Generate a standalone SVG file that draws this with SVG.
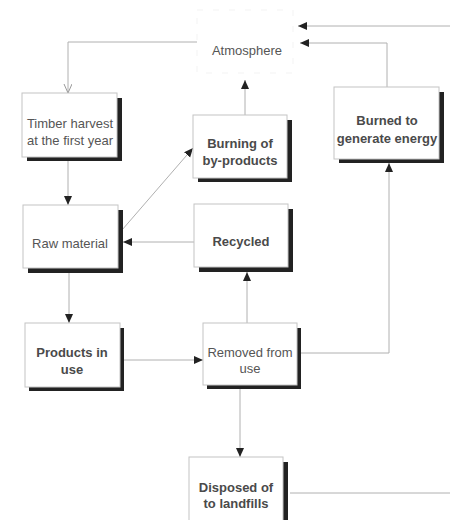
<svg xmlns="http://www.w3.org/2000/svg" width="450" height="520" viewBox="0 0 450 520">
<style>
.sh{fill:#222}
.bx{fill:#fff;stroke:#c4c4c4;stroke-width:1}
.t{font-family:"Liberation Sans",Arial,sans-serif;font-size:13px;fill:#555;text-anchor:middle}
.b{font-weight:bold;fill:#4a4a4a}
.c{fill:none;stroke:#b0b0b0;stroke-width:1}
</style>
<defs>
<marker id="ah" markerUnits="userSpaceOnUse" markerWidth="10" markerHeight="10" refX="9" refY="4" orient="auto"><path d="M0,0 L9,4 L0,8 z" fill="#222"/></marker>
<marker id="av" markerUnits="userSpaceOnUse" markerWidth="10" markerHeight="10" refX="9" refY="4" orient="auto"><path d="M0,0 L9,4 L0,8" fill="none" stroke="#999" stroke-width="1"/></marker>
</defs>
<rect width="450" height="520" fill="#fff"/>
<g id="connectors">
<path class="c" d="M450,26 H298" marker-end="url(#ah)"/>
<path class="c" d="M387,87 V43 H300" marker-end="url(#ah)"/>
<path class="c" d="M245,115 V80" marker-end="url(#ah)"/>
<path class="c" d="M197,42 H68 V93" stroke="#c8c8c8" marker-end="url(#av)"/>
<path class="c" d="M68,160 V205" marker-end="url(#ah)"/>
<path class="c" d="M122,230 L193,148" marker-end="url(#ah)"/>
<path class="c" d="M194,242 H123" marker-end="url(#ah)"/>
<path class="c" d="M69,273 V323" marker-end="url(#ah)"/>
<path class="c" d="M124,360 H203" marker-end="url(#ah)"/>
<path class="c" d="M247,323 V272" marker-end="url(#ah)"/>
<path class="c" d="M301,353 H389 V163" marker-end="url(#ah)"/>
<path class="c" d="M240,389 V457" marker-end="url(#ah)"/>
<path class="c" d="M290,493 H450"/>
</g>
<g id="atmosphere">
<rect x="197" y="10" width="96" height="63" fill="#fff" stroke="#f3f3f3" stroke-dasharray="6,10"/>
<text class="t" x="247" y="55">Atmosphere</text>
</g>
<g id="timber">
<rect class="sh" x="27" y="98" width="95" height="63"/>
<rect class="bx" x="22" y="93" width="95" height="64"/>
<text class="t" x="70" y="128">Timber harvest</text>
<text class="t" x="70" y="145">at the first year</text>
</g>
<g id="raw">
<rect class="sh" x="28" y="210" width="95" height="63"/>
<rect class="bx" x="23" y="205" width="95" height="63"/>
<text class="t" x="70" y="248">Raw material</text>
</g>
<g id="burning">
<rect class="sh" x="198" y="120" width="94" height="62"/>
<rect class="bx" x="193" y="115" width="94" height="63"/>
<text class="t b" x="240" y="148">Burning of</text>
<text class="t b" x="240" y="165">by-products</text>
</g>
<g id="burned">
<rect class="sh" x="339" y="92" width="105" height="71"/>
<rect class="bx" x="334" y="87" width="105" height="72"/>
<text class="t b" x="387" y="125">Burned to</text>
<text class="t b" x="387" y="143">generate energy</text>
</g>
<g id="recycled">
<rect class="sh" x="199" y="209" width="94" height="63"/>
<rect class="bx" x="194" y="204" width="94" height="63"/>
<text class="t b" x="241" y="246">Recycled</text>
</g>
<g id="products">
<rect class="sh" x="29" y="328" width="95" height="63"/>
<rect class="bx" x="25" y="323" width="95" height="64"/>
<text class="t b" x="72" y="357">Products in</text>
<text class="t b" x="72" y="374">use</text>
</g>
<g id="removed">
<rect class="sh" x="207" y="328" width="94" height="61"/>
<rect class="bx" x="203" y="323" width="94" height="62"/>
<text class="t" x="250" y="357">Removed from</text>
<text class="t" x="250" y="373">use</text>
</g>
<g id="disposed">
<rect class="sh" x="194" y="462" width="94" height="62"/>
<rect class="bx" x="189" y="457" width="94" height="70"/>
<text class="t b" x="236" y="492">Disposed of</text>
<text class="t b" x="236" y="508">to landfills</text>
</g>
</svg>
